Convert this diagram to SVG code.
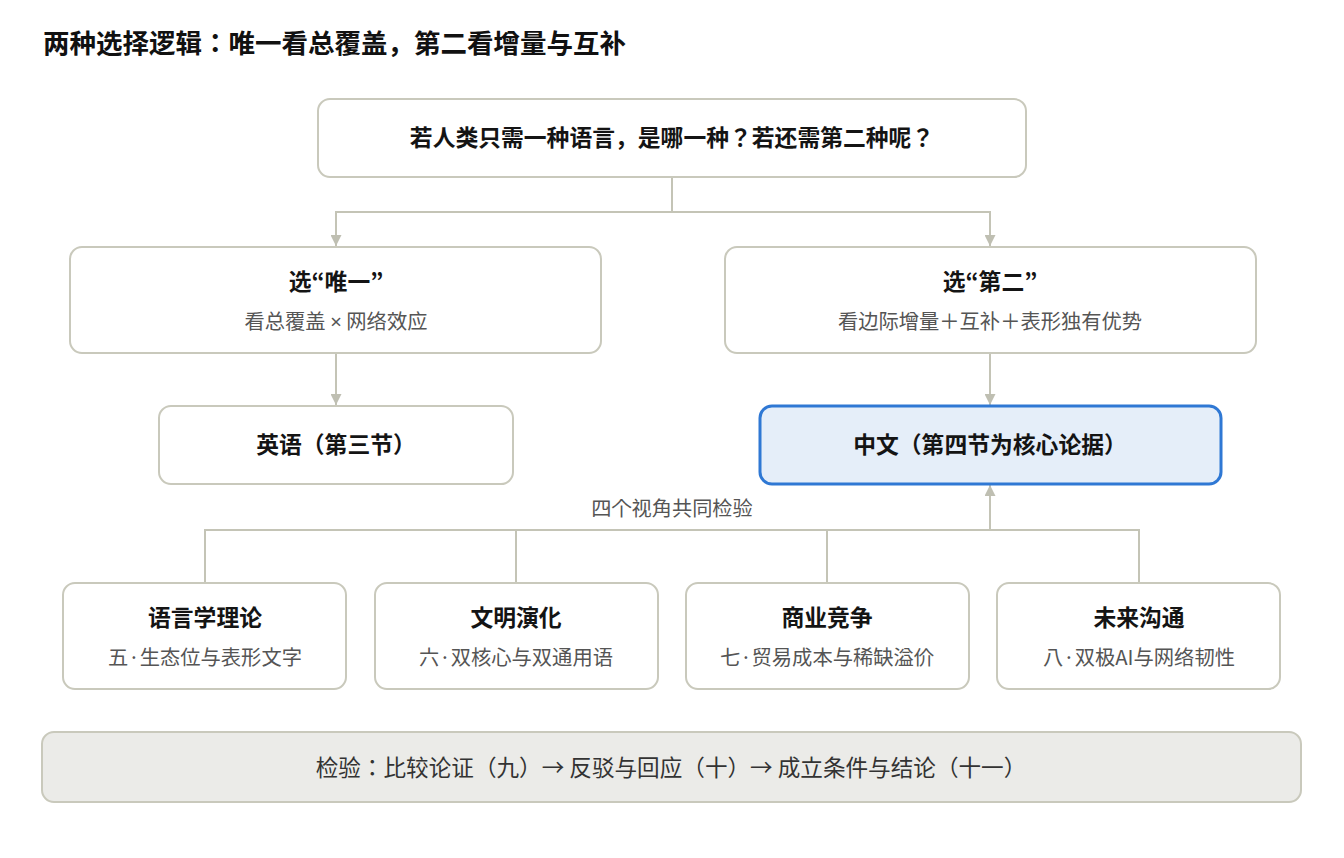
<svg xmlns="http://www.w3.org/2000/svg" width="1344" height="858" viewBox="0 0 1344 858">
<defs>
<marker id="arr" viewBox="0 0 10 10" refX="10" refY="5" markerWidth="11" markerHeight="11" markerUnits="userSpaceOnUse" orient="auto">
<path d="M0,0 L10,5 L0,10 z" fill="#bfbfb2"/>
</marker>
<style>
text{font-family:"Noto Sans CJK JP","Noto Sans CJK SC","Noto Sans",sans-serif;text-anchor:middle}
.box{fill:#ffffff;stroke:#c9c9bc;stroke-width:2}
.hl{fill:#e5eef9;stroke:#2f78d4;stroke-width:3}
.foot{fill:#ebebe8;stroke:#c9c9bc;stroke-width:2}
.t{font-size:22.8px;font-weight:700;fill:#141414}
.s{font-size:20.3px;fill:#555555}
.ln{fill:none;stroke:#c4c4b6;stroke-width:2}
.lab{font-size:20.2px;fill:#555555}
.lat{font-family:"Noto Sans","Liberation Sans",sans-serif}
</style>
</defs>
<rect width="1344" height="858" fill="#ffffff"/>
<text x="43" y="53" style="text-anchor:start;font-size:26.5px;font-weight:700;fill:#111">两种选择逻辑：唯一看总覆盖，第二看增量与互补</text>

<g id="connectors">
<path class="ln" d="M672,177 V212 H336 V246" marker-end="url(#arr)"/>
<path class="ln" d="M672,212 H990 V246" marker-end="url(#arr)"/>
<path class="ln" d="M336,353 V405" marker-end="url(#arr)"/>
<path class="ln" d="M990,353 V405" marker-end="url(#arr)"/>
<path class="ln" d="M205,583 V530 H1139 V583"/>
<path class="ln" d="M516,530 V583"/>
<path class="ln" d="M827,530 V583"/>
<path class="ln" d="M990,530 V485" marker-end="url(#arr)"/>
<text class="lab" x="672" y="516">四个视角共同检验</text>
</g>

<g id="question">
<rect class="box" x="318" y="99" width="708" height="78" rx="12"/>
<text class="t" x="672" y="146">若人类只需一种语言，是哪一种？若还需第二种呢？</text>
</g>

<g id="only">
<rect class="box" x="70" y="247" width="531" height="106" rx="12"/>
<text class="t" x="336" y="290">选“唯一”</text>
<text class="s" x="336" y="329">看总覆盖 <tspan class="lat">×</tspan> 网络效应</text>
</g>

<g id="second">
<rect class="box" x="725" y="247" width="531" height="106" rx="12"/>
<text class="t" x="990" y="290">选“第二”</text>
<text class="s" x="990" y="329">看边际增量＋互补＋表形独有优势</text>
</g>

<g id="english">
<rect class="box" x="159" y="406" width="354" height="78" rx="12"/>
<text class="t" x="336" y="453">英语（第三节）</text>
</g>

<g id="chinese">
<rect class="hl" x="760" y="406" width="461" height="78" rx="12"/>
<text class="t" x="990" y="453">中文（第四节为核心论据）</text>
</g>

<g id="ling">
<rect class="box" x="63" y="583" width="283" height="106" rx="12"/>
<text class="t" x="205" y="626">语言学理论</text>
<text class="s" x="205" y="665">五·生态位与表形文字</text>
</g>

<g id="civ">
<rect class="box" x="375" y="583" width="283" height="106" rx="12"/>
<text class="t" x="516" y="626">文明演化</text>
<text class="s" x="516" y="665">六·双核心与双通用语</text>
</g>

<g id="biz">
<rect class="box" x="686" y="583" width="283" height="106" rx="12"/>
<text class="t" x="827" y="626">商业竞争</text>
<text class="s" x="827" y="665">七·贸易成本与稀缺溢价</text>
</g>

<g id="future">
<rect class="box" x="997" y="583" width="283" height="106" rx="12"/>
<text class="t" x="1139" y="626">未来沟通</text>
<text class="s" x="1139" y="665">八·双极AI与网络韧性</text>
</g>

<g id="footer">
<rect class="foot" x="42" y="732" width="1259" height="70" rx="12"/>
<text x="671" y="776" style="font-size:22.6px;fill:#333">检验：比较论证（九）→ 反驳与回应（十）→ 成立条件与结论（十一）</text>
</g>
</svg>
